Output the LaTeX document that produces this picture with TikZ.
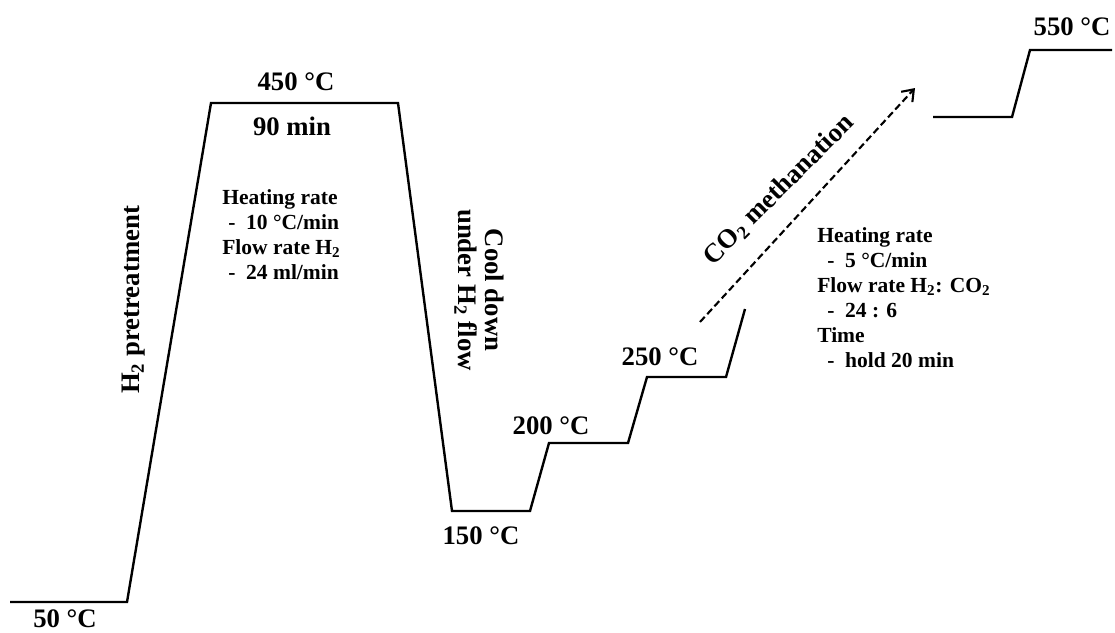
\documentclass[tikz,border=0pt]{standalone}
\usepackage{fontspec}
\setmainfont{Liberation Serif}
\usetikzlibrary{arrows.meta}

\begin{document}
\begin{tikzpicture}[
  x=0.025cm,y=-0.025cm,
  lbl/.style={font=\fontsize{19}{19}\selectfont\bfseries,inner sep=0pt},
  info/.style={font=\fontsize{15.3}{17.8}\selectfont\bfseries,align=left,
               inner sep=0pt,anchor=north west},
  prof/.style={line width=1.7pt},
  ar/.style={-{Straight Barb[length=2.6mm,width=3.8mm]},line width=1.5pt,
             dash pattern=on 5pt off 2.6pt}
]
\useasboundingbox (0,0) rectangle (1115,632);
% corners of the temperature profile
\coordinate (s0) at (10,602);
\coordinate (s1) at (127,602);
\coordinate (s2) at (211,103);
\coordinate (s3) at (398,103);
\coordinate (s4) at (452,511);
\coordinate (s5) at (530,511);
\coordinate (s6) at (549,443);
\coordinate (s7) at (628,443);
\coordinate (s8) at (647,377);
\coordinate (s9) at (726,377);
\coordinate (s10) at (745,309);
\coordinate (t0) at (933,117);
\coordinate (t1) at (1012,117);
\coordinate (t2) at (1030,50);
\coordinate (t3) at (1112,50);
\coordinate (a0) at (700,322);
\coordinate (a1) at (915,88);

\draw[prof] (s0) -- (s1) -- (s2) -- (s3) -- (s4) -- (s5) -- (s6) -- (s7)
  -- (s8) -- (s9) -- (s10);
\draw[prof] (t0) -- (t1) -- (t2) -- (t3);
\draw[ar] (a0) -- (a1);

% temperatures
\node[lbl] (t50) at (65,619) {50 °C};
\node[lbl] (t450) at (296,82) {450 °C};
\node[lbl] (hold) at (292,126) {90 min};
\node[lbl] (t150) at (481,536) {150 °C};
\node[lbl] (t200) at (551,426) {200 °C};
\node[lbl] (t250) at (660,357) {250 °C};
\node[lbl] (t550) at (1072,27) {550 °C};

% stage names
\node[lbl,rotate=90] (pre) at (134,300) {H\textsubscript{2} pretreatment};
\node[lbl,rotate=-90,align=center] (cool) at (479,290)
  {Cool down\\under H\textsubscript{2} flow};
\node[lbl,rotate=45] (meth) at (779,190) {CO\textsubscript{2} methanation};

% conditions
\node[info] (cond1) at (222,189) {Heating rate\\
  \hspace*{0.15cm}-\ \ 10 °C/min\\
  Flow rate H\textsubscript{2}\\
  \hspace*{0.15cm}-\ \ 24 ml/min};
\node[info] (cond2) at (817,227) {Heating rate\\
  \hspace*{0.25cm}-\ \ 5 °C/min\\
  Flow rate H\textsubscript{2}: CO\textsubscript{2}\\
  \hspace*{0.25cm}-\ \ 24 : 6\\
  Time\\
  \hspace*{0.25cm}-\ \ hold 20 min};
\end{tikzpicture}
\end{document}
